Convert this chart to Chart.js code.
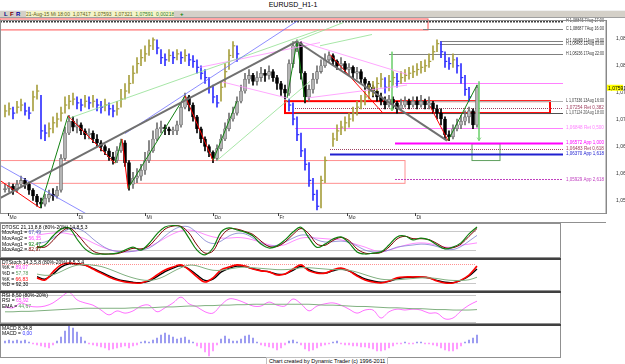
<!DOCTYPE html>
<html>
<head>
<meta charset="utf-8">
<script src="https://cdn.jsdelivr.net/npm/chart.js@4.4.1/dist/chart.umd.min.js"></script>
<style>
  body { margin:0; width:625px; height:364px; overflow:hidden; background:#fff; position:relative; font-family:"Liberation Sans", Arial, sans-serif; }
  canvas { position:absolute; left:0; }
  #title { position:absolute; top:1px; left:0; width:586px; text-align:center; font-size:7px; color:#000; }
  #bar { position:absolute; top:10px; left:0; width:625px; height:6px; background:#d4d0c8; border-top:1px solid #f0f0f0; border-bottom:1px solid #a0a0a0; }
  #bar span { position:absolute; top:0; font-size:6px; line-height:6px; font-weight:bold; }
  #quote { position:absolute; left:26px; top:0; width:148px; height:6px; background:#f4f4c8; font-size:5px; line-height:6px; color:#606020; white-space:nowrap; overflow:hidden; }
  #foot { position:absolute; top:357px; left:266px; font-size:5.5px; color:#000; border:1px solid #c0c0c0; padding:0 2px; line-height:6px; background:#fff; }
</style>
</head>
<body>
<div id="title">EURUSD_H1-1</div>
<div id="bar">
  <span style="left:4px;color:#000080">L</span>
  <span style="left:10px;color:#800000">F</span>
  <span style="left:16px;color:#0000a0">R</span>
  <div id="quote">21-Aug-15 Mi 18:00 &nbsp;1,07417 &nbsp;1,07593 &nbsp;1,07321 &nbsp;<span style="position:static;color:#308030;font-size:5px;font-weight:normal">1,07591 &nbsp;0,00218</span></div>
  <span style="left:180px;color:#008000">+</span>
</div>
<canvas id="main" width="625" height="208" style="top:15px"></canvas>
<canvas id="osc" width="561" height="35" style="top:223px"></canvas>
<canvas id="stoch" width="561" height="33" style="top:258px"></canvas>
<canvas id="rsi" width="561" height="33" style="top:291px"></canvas>
<canvas id="macd" width="561" height="34" style="top:324px"></canvas>
<div id="foot">Chart created by Dynamic Trader (c) 1996-2011</div>
<script>
// ---------- price bars (H1, one entry per bar) ----------
let opens = [1.0570,1.0572,1.0576,1.0569,1.0580,1.0587,1.0580,1.0569,1.0558,1.0547,
  1.0543,1.0554,1.0561,1.0558,1.0569,1.0628,1.0675,1.0697,1.0686,1.0690,
  1.0679,1.0672,1.0675,1.0664,1.0657,1.0650,1.0642,1.0631,1.0624,1.0642,
  1.0657,1.0620,1.0580,1.0591,1.0595,1.0606,1.0624,1.0642,1.0664,1.0683,
  1.0686,1.0683,1.0679,1.0679,1.0690,1.0723,1.0742,1.0727,1.0705,1.0683,
  1.0664,1.0650,1.0639,1.0628,1.0646,1.0664,1.0683,1.0701,1.0712,1.0734,
  1.0753,1.0775,1.0782,1.0771,1.0778,1.0786,1.0782,1.0789,1.0778,1.0767,
  1.0756,1.0749,1.0804,1.0837,1.0841,1.0786,1.0742,1.0756,1.0775,1.0789,
  1.0800,1.0811,1.0819,1.0808,1.0800,1.0804,1.0793,1.0797,1.0786,1.0789,
  1.0775,1.0767,1.0760,1.0753,1.0742,1.0734,1.0727,1.0738,1.0731,1.0720,
  1.0727,1.0734,1.0727,1.0734,1.0727,1.0734,1.0727,1.0731,1.0720,1.0712,
  1.0701,1.0672,1.0668,1.0683,1.0690,1.0697,1.0705,1.0716,1.0690];
let highs = [1.0580,1.0583,1.0580,1.0587,1.0595,1.0591,1.0583,1.0572,1.0561,1.0554,
  1.0561,1.0569,1.0572,1.0576,1.0635,1.0686,1.0708,1.0705,1.0701,1.0694,
  1.0683,1.0683,1.0679,1.0672,1.0661,1.0653,1.0646,1.0639,1.0650,1.0664,
  1.0661,1.0624,1.0602,1.0609,1.0617,1.0639,1.0661,1.0679,1.0694,1.0697,
  1.0690,1.0686,1.0686,1.0697,1.0731,1.0749,1.0745,1.0731,1.0708,1.0686,
  1.0668,1.0653,1.0642,1.0653,1.0672,1.0694,1.0712,1.0723,1.0742,1.0764,
  1.0786,1.0793,1.0786,1.0789,1.0797,1.0793,1.0800,1.0793,1.0782,1.0771,
  1.0764,1.0811,1.0845,1.0848,1.0845,1.0789,1.0764,1.0786,1.0800,1.0811,
  1.0822,1.0826,1.0822,1.0811,1.0815,1.0808,1.0804,1.0800,1.0797,1.0793,
  1.0778,1.0771,1.0764,1.0756,1.0749,1.0742,1.0745,1.0742,1.0734,1.0738,
  1.0742,1.0738,1.0742,1.0742,1.0745,1.0738,1.0742,1.0734,1.0727,1.0720,
  1.0705,1.0679,1.0690,1.0701,1.0708,1.0716,1.0723,1.0720,1.0764];
let lows = [1.0565,1.0565,1.0561,1.0565,1.0576,1.0572,1.0561,1.0550,1.0539,1.0536,
  1.0539,1.0547,1.0550,1.0554,1.0565,1.0624,1.0672,1.0679,1.0675,1.0672,
  1.0664,1.0664,1.0657,1.0650,1.0642,1.0635,1.0624,1.0617,1.0620,1.0639,
  1.0613,1.0569,1.0572,1.0583,1.0587,1.0598,1.0620,1.0639,1.0661,1.0675,
  1.0672,1.0672,1.0672,1.0672,1.0686,1.0720,1.0716,1.0697,1.0675,1.0657,
  1.0642,1.0631,1.0620,1.0624,1.0642,1.0661,1.0679,1.0697,1.0708,1.0731,
  1.0749,1.0767,1.0764,1.0764,1.0771,1.0771,1.0775,1.0771,1.0756,1.0745,
  1.0738,1.0745,1.0797,1.0826,1.0775,1.0731,1.0734,1.0749,1.0767,1.0786,
  1.0797,1.0808,1.0800,1.0793,1.0793,1.0786,1.0782,1.0778,1.0775,1.0767,
  1.0756,1.0749,1.0742,1.0734,1.0727,1.0720,1.0723,1.0720,1.0712,1.0716,
  1.0723,1.0720,1.0723,1.0720,1.0723,1.0720,1.0720,1.0712,1.0701,1.0690,
  1.0664,1.0661,1.0664,1.0679,1.0683,1.0690,1.0694,1.0683,1.0686];
let closes = [1.0572,1.0576,1.0569,1.0580,1.0587,1.0580,1.0569,1.0558,1.0547,1.0543,
  1.0554,1.0561,1.0558,1.0569,1.0628,1.0675,1.0697,1.0686,1.0690,1.0679,
  1.0672,1.0675,1.0664,1.0657,1.0650,1.0642,1.0631,1.0624,1.0642,1.0657,
  1.0620,1.0580,1.0591,1.0595,1.0606,1.0624,1.0642,1.0664,1.0683,1.0686,
  1.0683,1.0679,1.0679,1.0690,1.0723,1.0742,1.0727,1.0705,1.0683,1.0664,
  1.0650,1.0639,1.0628,1.0646,1.0664,1.0683,1.0701,1.0712,1.0734,1.0753,
  1.0775,1.0782,1.0771,1.0778,1.0786,1.0782,1.0789,1.0778,1.0767,1.0756,
  1.0749,1.0804,1.0837,1.0841,1.0786,1.0742,1.0756,1.0775,1.0789,1.0800,
  1.0811,1.0819,1.0808,1.0800,1.0804,1.0793,1.0797,1.0786,1.0789,1.0775,
  1.0767,1.0760,1.0753,1.0742,1.0734,1.0727,1.0738,1.0731,1.0720,1.0727,
  1.0734,1.0727,1.0734,1.0727,1.0734,1.0727,1.0731,1.0720,1.0712,1.0701,
  1.0672,1.0668,1.0683,1.0690,1.0697,1.0705,1.0716,1.0690,1.0759];

// ---------- overlay bars (blue / olive) ----------
let ovHigh = [1.0727,1.0731,1.0723,1.0734,1.0738,1.0731,1.0723,1.0753,1.0764,1.0745,
  1.0690,1.0694,1.0705,1.0712,1.0723,1.0742,1.0745,1.0749,1.0742,1.0738,
  1.0745,1.0742,1.0745,1.0738,1.0734,1.0738,1.0731,1.0727,1.0734,1.0756,
  1.0767,1.0782,1.0800,1.0815,1.0830,1.0837,1.0848,1.0852,1.0848,1.0830,
  1.0822,1.0830,1.0826,1.0830,1.0826,1.0830,1.0822,1.0819,1.0811,1.0800,
  1.0793,1.0778,1.0764,1.0745,1.0771,1.0804,1.0830,1.0845,1.0837,null,
  null,null,null,null,null,null,null,null,null,null,
  null,1.0738,1.0731,1.0705,1.0675,1.0646,1.0620,1.0591,1.0569,1.0595,
  1.0631,null,1.0675,1.0690,1.0697,1.0705,1.0712,1.0723,1.0734,1.0745,
  1.0753,1.0764,1.0771,1.0778,1.0786,1.0778,1.0782,1.0789,1.0786,1.0789,
  1.0793,1.0797,1.0800,1.0804,1.0808,1.0811,1.0822,1.0837,1.0848,1.0845,
  1.0826,1.0815,1.0822,1.0815,1.0804,1.0782,1.0760,null,null];
let ovLow = [1.0705,1.0708,1.0701,1.0712,1.0716,1.0708,1.0701,1.0716,1.0738,1.0664,
  1.0661,1.0668,1.0675,1.0686,1.0697,1.0712,1.0720,1.0727,1.0720,1.0716,
  1.0723,1.0720,1.0723,1.0716,1.0712,1.0716,1.0708,1.0705,1.0708,1.0723,
  1.0738,1.0749,1.0767,1.0786,1.0800,1.0808,1.0819,1.0830,1.0822,1.0804,
  1.0800,1.0808,1.0804,1.0811,1.0804,1.0808,1.0800,1.0797,1.0786,1.0775,
  1.0767,1.0749,1.0731,1.0723,1.0734,1.0760,1.0793,1.0815,1.0808,null,
  null,null,null,null,null,null,null,null,null,null,
  null,1.0716,1.0690,1.0661,1.0631,1.0606,1.0576,1.0550,1.0532,1.0536,
  1.0583,null,1.0650,1.0661,1.0672,1.0679,1.0686,1.0697,1.0708,1.0720,
  1.0727,1.0738,1.0745,1.0753,1.0760,1.0749,1.0753,1.0764,1.0760,1.0767,
  1.0771,1.0775,1.0778,1.0782,1.0786,1.0789,1.0797,1.0811,1.0826,1.0815,
  1.0797,1.0793,1.0797,1.0786,1.0767,1.0745,1.0734,null,null];
let ovClose = [1.0716,1.0720,1.0712,1.0723,1.0727,1.0716,1.0712,1.0742,1.0753,1.0679,
  1.0675,1.0683,1.0694,1.0701,1.0712,1.0727,1.0734,1.0738,1.0731,1.0727,
  1.0734,1.0731,1.0734,1.0727,1.0723,1.0727,1.0720,1.0716,1.0720,1.0738,
  1.0753,1.0767,1.0786,1.0804,1.0815,1.0822,1.0837,1.0848,1.0833,1.0815,
  1.0811,1.0819,1.0815,1.0822,1.0815,1.0819,1.0811,1.0808,1.0797,1.0786,
  1.0778,1.0760,1.0742,1.0731,1.0760,1.0789,1.0819,1.0837,1.0822,null,
  null,null,null,null,null,null,null,null,null,null,
  null,1.0727,1.0701,1.0672,1.0642,1.0617,1.0587,1.0561,1.0539,1.0587,
  1.0624,null,1.0664,1.0679,1.0686,1.0694,1.0701,1.0712,1.0723,1.0734,
  1.0742,1.0753,1.0760,1.0767,1.0775,1.0760,1.0771,1.0778,1.0771,1.0778,
  1.0782,1.0786,1.0789,1.0793,1.0797,1.0800,1.0808,1.0826,1.0841,1.0826,
  1.0808,1.0804,1.0811,1.0800,1.0778,1.0756,1.0742,null,null];

// ---------- indicators ----------
// DTOSC / DTStoch: one value every 2 bars, from bar 8
let oscFast = [25,35,65,88,92,55,22,6,5,5,8,18,28,18,40,72,95,100,95,58,18,2,25,78,92,85,78,65,38,25,32,52,78,94,58,27,38,55,62,42,12,5,8,12,35,62,65,52,58,52,35,22,28,42,72,95];
let oscSlow = [30,28,50,78,92,72,40,15,6,5,6,14,24,22,32,60,88,98,97,75,35,8,15,62,88,88,80,70,48,30,30,45,70,90,72,38,34,50,60,50,22,8,7,10,28,55,64,56,56,53,40,26,26,38,64,90];
let oscAvg1 = [40,45,58,75,88,90,78,55,35,20,14,12,14,18,25,42,65,85,96,95,75,50,40,48,65,74,72,58,42,32,34,45,58,68,66,52,45,46,48,44,32,18,12,12,18,28,32,35,38,36,30,22,20,30,48,67];
let oscAvg2 = [68,72,75,76,72,65,55,42,30,20,14,12,14,20,30,42,58,72,82,85,80,70,62,58,58,60,58,52,44,36,32,36,48,58,60,58,56,54,52,45,36,28,18,12,18,26,34,40,42,40,34,28,28,34,38,42];
let stochK = [36,29,55,77,83,80,77,64,51,39,29,23,20,20,29,45,61,70,77,61,39,23,36,61,70,77,73,64,58,55,45,48,64,77,58,51,51,61,67,58,42,29,23,20,26,36,39,39,39,36,26,20,20,29,45,73];
let stochD = [40,32,48,70,80,80,76,66,54,42,32,26,22,21,26,40,56,67,74,64,45,28,32,54,66,73,72,65,59,55,48,48,60,72,62,53,51,58,64,58,45,33,26,22,25,33,37,38,38,36,28,22,21,28,42,64];
let stochSlow = [48,44,46,56,68,76,78,76,72,64,54,44,36,30,28,32,42,56,68,76,74,66,60,60,64,68,70,68,66,64,62,62,64,68,68,66,64,62,62,60,54,46,38,32,30,30,32,34,36,36,34,30,28,28,30,38];
// RSI: one value every 2 bars, from bar 0
let rsiVals = [54,52,63,56,54,56,63,76,87,70,63,58,47,36,45,40,45,56,58,43,52,63,76,61,54,43,40,58,72,70,63,56,56,65,58,56,72,61,45,56,61,63,58,49,40,47,47,29,43,49,47,49,47,40,40,27,29,45,58,67];
let rsiEma = [43,43,44,44,45,46,47,48,49,50,51,51,51,51,51,51,52,52,52,53,54,54,55,56,56,57,57,58,58,59,59,60,60,60,60,60,60,60,60,59,58,58,57,56,55,55,54,53,52,52,51,50,50,49,48,48,47,47,47,48];
// MACD histogram, one per bar
let macdHist = [2,3,2,3,2,3,1,-1,-2,-3,-4,-5,-2,2,6,12,18,15,11,6,2,-1,-2,-3,-4,-5,-7,-6,-5,-4,-3,-5,-3,-2,1,2,1,3,5,8,10,8,6,4,5,6,3,1,-3,-5,-9,-13,-8,-2,4,7,4,2,2,4,7,8,5,1,-2,-3,-4,-5,-7,-5,-2,2,3,1,-2,-6,-8,-7,-5,-3,-2,-1,1,2,-1,-2,-2,-3,-3,-4,-4,-5,-6,-8,-8,-7,-5,-3,-1,-1,1,-1,-1,1,1,-1,-1,-2,-3,-5,-7,-8,-8,-6,-3,1,3,5,8];

// ---------- axes ----------
let priceTicks = [1.055, 1.060, 1.065, 1.070, 1.075, 1.080, 1.085];
let dayTickBars = [0.75, 18, 35, 52, 68.25, 85.5, 102.5];
let dayTickLabels = ['Mo', 'Di', 'Mi', 'Do', 'Fr', 'Mo', 'Di'];
let lastPrice = 1.07591;

// ---------- drawing tools (bar index, price) ----------
let zigRed = [[[-1.25,1.0587],[8.75,1.0536]], [[15.75,1.0707],[27.5,1.0619]], [[29.25,1.0664],[30.75,1.0572]],
  [[45,1.0744],[52,1.0624]], [[81.25,1.0821],[94.5,1.0712]], [[106.25,1.0725],[110.75,1.0661]]];
let zigGreen = [[[8.75,1.0536],[15.75,1.0707]], [[27.5,1.0619],[29.25,1.0664]], [[30.75,1.0572],[45,1.0744]],
  [[52,1.0624],[58,1.0734]], [[70.5,1.0740],[73,1.0845]], [[73,1.0845],[75,1.0734]], [[110.75,1.0661],[118,1.0764]]];
let trendLines = [
  {pts: [[-1.25,1.0554],[73,1.0845]], color: '#707070', width: 2},
  {pts: [[73,1.0845],[110.5,1.0661]], color: '#707070', width: 2},
  {pts: [[-1.25,1.0615],[21.75,1.0519]], color: '#7070ff', width: 0.8},
  {pts: [[30,1.0674],[74.5,1.0890]], color: '#7070ff', width: 0.8},
  {pts: [[16.25,1.0703],[78.75,1.0867]], color: '#90e090', width: 0.8},
  {pts: [[53,1.0624],[76.25,1.0771]], color: '#90e090', width: 0.8},
  {pts: [[71.25,1.0841],[84.5,1.0880]], color: '#90e090', width: 0.8},
  {pts: [[78.75,1.0837],[91.75,1.0858]], color: '#90e090', width: 0.8},
  {pts: [[48.75,1.0797],[78.75,1.0843]], color: '#ff90ff', width: 0.8},
  {pts: [[73.75,1.0845],[100.5,1.0784]], color: '#ff90ff', width: 0.8},
  {pts: [[53.75,1.0771],[70.5,1.0740]], color: '#ff90ff', width: 0.8},
  {pts: [[75.5,1.0740],[100.5,1.0764]], color: '#ff90ff', width: 0.8}
];
let levels = [
  {price: 1.08835, from: -1.25, text: 'H 1,08845 7Aug 17:00', color: '#404040', width: 2, dash: [2, 1]},
  {price: 1.08684, from: 104.5, text: 'C 1,08687 7Aug 16:00', color: '#808080'},
  {price: 1.08463, from: 108.75, text: 'H 1,08489 11Aug 19:00', color: '#808080'},
  {price: 1.08408, from: 108.75, text: 'H 1,08483 12Aug 03:00', color: '#808080'},
  {price: 1.08224, from: 96, text: 'H 1,08236 17Aug 22:00', color: '#808080'},
  {price: 1.07673, from: 97.5, text: '', color: '#ff80ff'},
  {price: 1.07342, from: 98.75, text: 'L 1,07336 13Aug 16:00', color: '#b0b0b0', tc: '#404040'},
  {price: 1.07213, from: 72.5, text: '1,07254 Ret 0,382', color: '#a04060', dash: [1, 1]},
  {price: 1.07121, from: 72.5, text: 'L 1,07124 20Aug 18:00', color: '#505050'},
  {price: 1.06846, from: 72.5, text: '1,06848 Ret 0,500', color: '#ff80ff'},
  {price: 1.06570, from: 97.5, text: '1,06572 App 1,000', color: '#ff00ff', width: 2},
  {price: 1.06460, from: 81.25, text: '1,06483 Ret 0,618', color: '#a04060', dash: [1, 1]},
  {price: 1.06368, from: 81.25, text: '1,06370 App 1,618', color: '#2020d0', width: 2},
  {price: 1.05890, from: 97.5, text: '1,05929 App 2,618', color: '#c040c0', dash: [2, 1]}
];
let boxes = [
  {x0: -1.25, x1: 105.75, p0: 1.08868, p1: 1.08665, color: '#ff5050', width: 1},
  {x0: 70, x1: 136.25, p0: 1.07342, p1: 1.07121, color: '#ff0000', width: 2},
  {x0: -1.25, x1: 100, p0: 1.06239, p1: 1.05816, color: '#ff9090', width: 1},
  {x0: 116.75, x1: 123.75, p0: 1.06551, p1: 1.06239, color: '#60a060', width: 1}
];
let arrows = [[[118.5,1.0771],[118.5,1.0661]], [[96.75,1.0826],[96.75,1.0716]]];
let levelEnd = 139.5;

const FONT = '"Liberation Sans", Arial, sans-serif';
const NARROW = '"Liberation Sans Narrow", "Liberation Sans", sans-serif';
const fmt = v => v.toFixed(5).replace('.', ',');

function seg(pts, color, width) {
  return {type: 'line', data: pts.map(p => ({x: p[0], y: p[1]})), borderColor: color, borderWidth: width,
    pointRadius: 0, tension: 0, fill: false, order: 0};
}

const up = closes.map((c, i) => c >= opens[i]);
let prevOv = null;
const ovUp = ovClose.map(c => { const r = prevOv === null || c === null || c >= prevOv; if (c !== null) prevOv = c; return r; });

const datasets = [];
trendLines.forEach(t => datasets.push(seg(t.pts, t.color, t.width)));
zigRed.forEach(s => datasets.push(seg(s, '#ff0000', 1)));
zigGreen.forEach(s => datasets.push(seg(s, '#108010', 1)));
arrows.forEach(s => datasets.push(seg(s, '#70d070', 0.8)));
datasets.push({
  type: 'bar', order: 1, grouped: false, barThickness: 1.5,
  data: ovClose.map((c, i) => ({x: i + 0.3, y: c === null ? null : [c - 0.00005, c + 0.00005]})),
  backgroundColor: ovUp.map(u => u ? '#a8a040' : '#3030ff')
});
datasets.push({
  type: 'bar', order: 1, grouped: false, barThickness: 1,
  data: ovHigh.map((h, i) => ({x: i, y: h === null ? null : [ovLow[i], h]})),
  backgroundColor: ovUp.map(u => u ? '#a8a040' : '#3030ff')
});
datasets.push({
  type: 'bar', order: 2, grouped: false, barThickness: 3, minBarLength: 1,
  data: closes.map((c, i) => ({x: i, y: [opens[i], c]})),
  backgroundColor: up.map(u => u ? '#b4b4b4' : '#000000'),
  borderColor: up.map(u => u ? '#606060' : '#000000'), borderWidth: 0.6, borderSkipped: false
});
datasets.push({
  type: 'bar', order: 3, grouped: false, barThickness: 1,
  data: highs.map((h, i) => ({x: i, y: [lows[i], h]})),
  backgroundColor: up.map(u => u ? '#707070' : '#000000')
});

const mainDeco = {
  id: 'mainDeco',
  beforeDatasetsDraw(chart) {
    const {ctx, scales: {x, y}} = chart;
    ctx.save();
    boxes.forEach(b => {
      const x0 = x.getPixelForValue(b.x0), x1 = x.getPixelForValue(b.x1);
      const y0 = y.getPixelForValue(b.p0), y1 = y.getPixelForValue(b.p1);
      ctx.strokeStyle = b.color; ctx.lineWidth = b.width;
      ctx.strokeRect(x0, y0, x1 - x0, y1 - y0);
    });
    levels.forEach(l => {
      const py = Math.round(y.getPixelForValue(l.price)) + 0.5;
      ctx.strokeStyle = l.color; ctx.lineWidth = l.width || 1; ctx.setLineDash(l.dash || []);
      ctx.beginPath(); ctx.moveTo(x.getPixelForValue(l.from), py); ctx.lineTo(x.getPixelForValue(levelEnd), py); ctx.stroke();
    });
    ctx.restore();
  },
  afterDraw(chart) {
    const {ctx, chartArea: a, scales: {x, y}} = chart;
    ctx.save();
    ctx.font = '4.6px ' + NARROW; ctx.textBaseline = 'middle'; ctx.textAlign = 'left';
    levels.forEach(l => {
      if (!l.text) return;
      ctx.fillStyle = l.tc || (l.color === '#808080' ? '#303030' : l.color);
      ctx.fillText(l.text, x.getPixelForValue(levelEnd + 0.5) + 1, y.getPixelForValue(l.price), 38);
    });
    // arrow heads
    ctx.strokeStyle = '#70d070'; ctx.lineWidth = 0.8;
    arrows.forEach(s => {
      const ax = x.getPixelForValue(s[1][0]), ay = y.getPixelForValue(s[1][1]);
      ctx.beginPath(); ctx.moveTo(ax - 2, ay - 3); ctx.lineTo(ax, ay); ctx.lineTo(ax + 2, ay - 3); ctx.stroke();
    });
    // frame
    ctx.strokeStyle = '#909090'; ctx.lineWidth = 1;
    ctx.strokeRect(0.5, a.top + 0.5, a.right - 0.5, a.bottom - a.top);
    // day axis
    const rowY = a.bottom;
    ctx.beginPath(); ctx.moveTo(0, rowY + 9.5); ctx.lineTo(a.right, rowY + 9.5); ctx.stroke();
    ctx.fillStyle = '#303030'; ctx.font = '5px ' + FONT;
    dayTickBars.forEach((b, i) => {
      const px = Math.round(x.getPixelForValue(b)) + 0.5;
      ctx.beginPath(); ctx.moveTo(px, rowY); ctx.lineTo(px, rowY + 3); ctx.strokeStyle = '#404040'; ctx.stroke();
      ctx.fillText(dayTickLabels[i], px + 1, rowY + 5);
    });
    // current price marker
    const py = y.getPixelForValue(lastPrice);
    ctx.fillStyle = '#ffff00'; ctx.fillRect(a.right + 1, py - 3, 16, 6);
    ctx.fillStyle = '#000'; ctx.fillText(fmt(lastPrice), a.right + 2, py + 0.5);
    ctx.restore();
  }
};

new Chart(document.getElementById('main'), {
  type: 'bar',
  data: {datasets: datasets},
  options: {
    responsive: false, animation: false, events: [],
    layout: {padding: {top: 3, bottom: 10, left: 0, right: 0}},
    plugins: {legend: {display: false}, tooltip: {enabled: false}},
    scales: {
      x: {type: 'linear', min: -1.25, max: 150.25, offset: false, display: false},
      y: {
        position: 'right', min: 1.05265, max: 1.08849,
        grid: {display: false}, border: {color: '#808080'},
        afterBuildTicks: s => { s.ticks = priceTicks.map(v => ({value: v})); },
        afterFit: s => { s.width = 19; },
        ticks: {font: {size: 5, family: FONT}, color: '#303030', padding: 2, callback: v => fmt(v)}
      }
    }
  },
  plugins: [mainDeco]
});

// ---------- indicator panels ----------
function panelDeco(bands, lines, topDark) {
  return {
    id: 'panelDeco',
    beforeDatasetsDraw(chart) {
      const {ctx, scales: {y}} = chart;
      ctx.save();
      bands.forEach(b => {
        const py = Math.round(y.getPixelForValue(b.v)) + 0.5;
        ctx.strokeStyle = b.color; ctx.lineWidth = 1; ctx.setLineDash(b.dash || []);
        ctx.beginPath(); ctx.moveTo(0, py); ctx.lineTo(476, py); ctx.stroke();
      });
      ctx.restore();
    },
    afterDraw(chart) {
      const {ctx, width, height} = chart;
      ctx.save();
      ctx.strokeStyle = '#909090'; ctx.lineWidth = 1;
      ctx.strokeRect(0.5, 0.5, width - 1, height - 1);
      if (topDark) { ctx.strokeStyle = '#404040'; ctx.lineWidth = 2; ctx.beginPath(); ctx.moveTo(0, 1); ctx.lineTo(width, 1); ctx.stroke(); }
      ctx.font = '5px ' + FONT; ctx.textBaseline = 'top';
      lines.forEach((parts, r) => {
        let px = 2;
        parts.forEach(([t, c]) => { ctx.fillStyle = c; ctx.fillText(t, px, 2 + r * 5.6); px += ctx.measureText(t).width; });
      });
      ctx.restore();
    }
  };
}

function curve(vals, start, step, color, width) {
  return {type: 'line', data: vals.map((v, k) => ({x: start + k * step, y: v})), borderColor: color,
    borderWidth: width, pointRadius: 0, tension: 0.35, fill: false};
}

function panel(id, yMin, yMax, datasets, bands, lines, topDark) {
  return new Chart(document.getElementById(id), {
    type: 'line',
    data: {datasets: datasets},
    options: {
      responsive: false, animation: false, events: [],
      layout: {padding: 0},
      plugins: {legend: {display: false}, tooltip: {enabled: false}},
      scales: {
        x: {type: 'linear', min: -1.25, max: 139, offset: false, display: false},
        y: {min: yMin, max: yMax, display: false}
      }
    },
    plugins: [panelDeco(bands, lines, topDark)]
  });
}

panel('osc', -8.3, 108.3, [
  curve(oscFast, 8, 2, '#108010', 1.2),
  curve(oscSlow, 8, 2, '#800000', 1),
  curve(oscAvg1, 8, 2, '#8080d0', 0.8),
  curve(oscAvg2, 8, 2, '#ff70ff', 0.8)
], [{v: 80, color: '#c8c8c8'}, {v: 20, color: '#c8c8c8'}], [
  [['DTOSC 21,13,8,8 (80%-20%) 14,8,5,3', '#000']],
  [['MovAvg1 = ', '#000'], ['67,49', '#5050c0']],
  [['MovAvg2 = ', '#000'], ['56,35', '#ff40ff']],
  [['MovAvg1 = ', '#000'], ['92,47', '#108010']],
  [['MovAvg2 = ', '#000'], ['82,97', '#800000']]
], false);

panel('stoch', -5.4, 98.7, [
  curve(stochSlow, 8, 2, '#80b080', 1),
  curve(stochK, 8, 2, '#ff0000', 1.6),
  curve(stochD, 8, 2, '#000000', 1.4)
], [{v: 80, color: '#ff9090', dash: [1, 1]}, {v: 20, color: '#c8c8c8'}], [
  [['DTStoch 14,3,5,8 (80%-20%) 8,5,3,4', '#000']],
  [['%K = ', '#000'], ['89,07', '#ff40ff']],
  [['%D = ', '#000'], ['57,78', '#60a060']],
  [['%K = ', '#000'], ['66,83', '#ff0000']],
  [['%D = ', '#000'], ['92,30', '#000']]
], true);

panel('rsi', 15.5, 89.9, [
  curve(rsiEma, 0, 2, '#80b080', 1),
  curve(rsiVals, 0, 2, '#ff70ff', 1)
], [{v: 80, color: '#c8c8c8'}, {v: 20, color: '#c8c8c8'}], [
  [['RSI 8,50 (80%-20%)', '#000']],
  [['RSI = ', '#000'], ['65,92', '#ff40ff']],
  [['EMA = ', '#000'], ['44,67', '#60a060']]
], true);

panel('macd', -15, 19, [{
  type: 'bar', grouped: false, barThickness: 1,
  data: macdHist.map((v, i) => ({x: i, y: v})),
  backgroundColor: macdHist.map(v => v >= 0 ? '#8888ee' : '#ff88ff')
}], [], [
  [['MACD 8,34,8', '#000']],
  [['MACD = ', '#000'], ['0,00', '#3030ff']]
], true);
</script>
</body>
</html>
